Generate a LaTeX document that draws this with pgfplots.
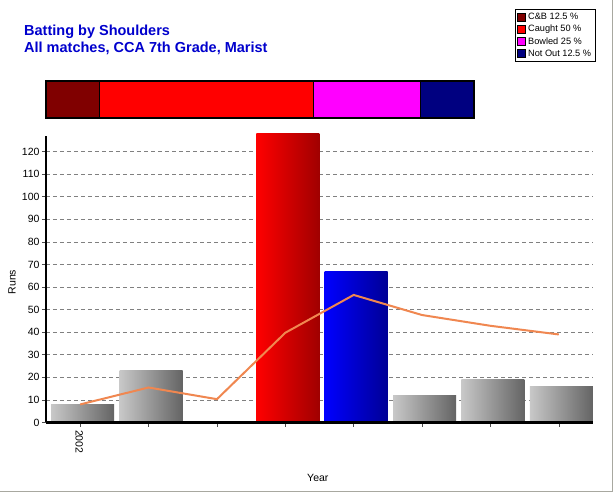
\documentclass[border=0pt]{standalone}
\usepackage{pgfplots}
\pgfplotsset{compat=1.18}
\usepackage{fontspec}
\setmainfont{Liberation Sans}
\definecolor{titleblue}{RGB}{0,0,205}
\definecolor{cbcol}{RGB}{128,0,0}
\definecolor{caughtcol}{RGB}{255,0,0}
\definecolor{bowledcol}{RGB}{255,0,255}
\definecolor{notoutcol}{RGB}{0,0,128}
\definecolor{linecol}{RGB}{240,135,80}
\definecolor{gridcol}{RGB}{128,128,128}
\definecolor{framecol}{RGB}{168,168,160}
\definecolor{grayL}{RGB}{200,200,200}
\definecolor{grayR}{RGB}{100,100,100}
\begin{document}
\begin{tikzpicture}[x=1pt,y=1pt]
\path[use as bounding box] (0,0) rectangle (614,493);
\fill[white] (0,0) rectangle (614,493);
\draw[framecol, line width=1.5pt] (0,1.5) -- (612.5,1.5) -- (612.5,493);
% titles
\node[anchor=base west, inner sep=0pt, text=titleblue, font=\fontsize{14.5}{17}\selectfont\bfseries] at (24,457.5) {Batting by Shoulders};
\node[anchor=base west, inner sep=0pt, text=titleblue, font=\fontsize{14.5}{17}\selectfont\bfseries] at (24,440.5) {All matches, CCA 7th Grade, Marist};
% dismissal strip
\begin{axis}[
  at={(46pt,375pt)}, anchor=south west,
  scale only axis, width=428pt, height=37pt,
  xmin=0, xmax=100, ymin=-0.5, ymax=0.5,
  hide axis,
  xbar stacked, bar width=37pt,
  legend image code/.code={\draw[#1, draw=black, line width=0.6pt] (0pt,-4pt) rectangle (8pt,4pt);},
  legend style={at={(rel axis cs:1.285,2.946)}, anchor=north east, draw=black, line width=0.8pt,
    font=\fontsize{9.2}{10.5}\selectfont, row sep=3.2pt, inner xsep=2pt, inner ysep=3pt,
    nodes={inner xsep=2.5pt, inner ysep=0.5pt}},
  legend cell align=left,
]
\addplot[fill=cbcol, draw=black, line width=1pt] coordinates {(12.5,0)};
\addlegendentry{C\&B 12.5 \%}
\addplot[fill=caughtcol, draw=black, line width=1pt] coordinates {(50,0)};
\addlegendentry{Caught 50 \%}
\addplot[fill=bowledcol, draw=black, line width=1pt] coordinates {(25,0)};
\addlegendentry{Bowled 25 \%}
\addplot[fill=notoutcol, draw=black, line width=1pt] coordinates {(12.5,0)};
\addlegendentry{Not Out 12.5 \%}
\end{axis}
\draw[black, line width=1.5pt] (46,375) rectangle (474,412);
% main chart
\begin{axis}[
  at={(46pt,70.5pt)}, anchor=south west,
  scale only axis, width=547pt, height=286.5pt,
  xmin=-0.5, xmax=7.5, ymin=0, ymax=126.9,
  axis x line*=bottom, axis y line*=left,
  axis line style={-, line width=2.5pt, black},
  clip=false,
  xtick={0,...,7}, xticklabels={2002,,,,,,,},
  ytick={0,10,...,120},
  tick align=outside, major tick length=4pt,
  tick style={line width=0.6pt, black!70},
  xticklabel style={rotate=-90, anchor=west, font=\fontsize{10.5}{12}\selectfont, yshift=-1pt},
  yticklabel style={font=\fontsize{10.5}{12}\selectfont, xshift=1pt},
  /pgf/number format/assume math mode=true,
  ymajorgrids,
  grid style={gridcol, dashed, dash pattern=on 4pt off 3pt, line width=0.7pt},
  ylabel={Runs}, xlabel={Year},
  ylabel style={at={(axis description cs:-0.062,0.49)}, anchor=center, font=\fontsize{10.5}{12}\selectfont},
  xlabel style={at={(axis description cs:0.497,-0.194)}, anchor=center, font=\fontsize{10.5}{12}\selectfont},
  graybar/.style={ybar, bar width=63pt, bar shift=2.5pt, draw=none, left color=grayL, right color=grayR},
]
\addplot[graybar] coordinates {(0,8)};
\addplot[graybar] coordinates {(1,23)};
\addplot[graybar] coordinates {(5,12)};
\addplot[graybar] coordinates {(6,19)};
\addplot[graybar] coordinates {(7,16)};
\addplot[ybar, bar width=63pt, bar shift=2.5pt, draw=none, left color=red, right color={rgb,255:red,160;green,0;blue,0}] coordinates {(3,128)};
\addplot[ybar, bar width=63pt, bar shift=2.5pt, draw=none, left color=blue, right color={rgb,255:red,0;green,0;blue,150}] coordinates {(4,67)};
\addplot[linecol, line width=2pt, mark=none] coordinates {(0,8) (1,15.5) (2,10.33) (3,39.75) (4,56.5) (5,47.6) (6,42.83) (7,39)};
\draw[black, line width=2.5pt] (rel axis cs:0,0) -- (rel axis cs:1,0);
\draw[black, line width=2.5pt] (rel axis cs:0,0) -- (rel axis cs:0,1);
\end{axis}
\end{tikzpicture}
\end{document}
